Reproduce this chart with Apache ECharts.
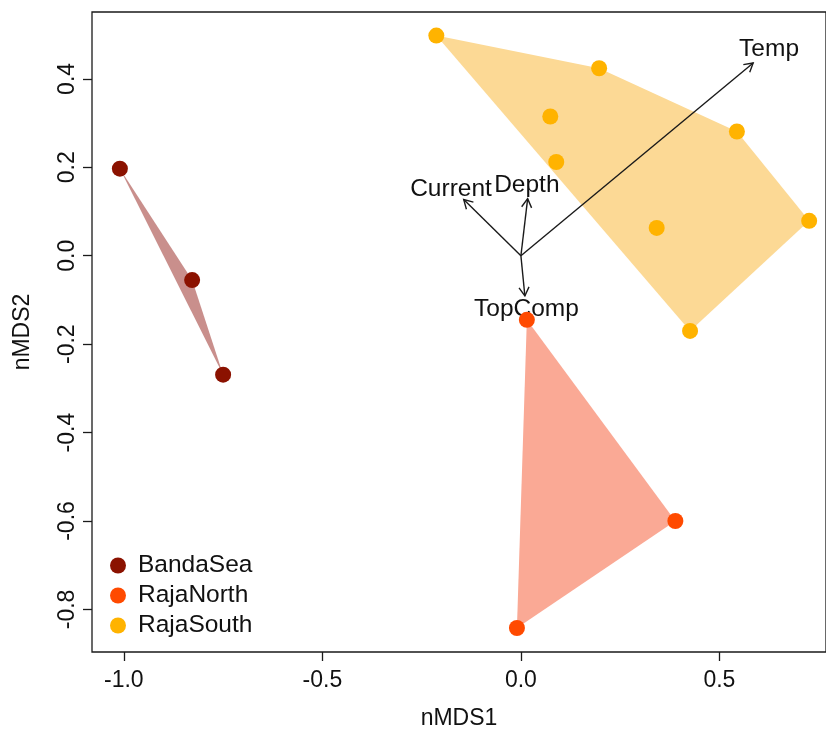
<!DOCTYPE html>
<html><head><meta charset="utf-8">
<script src="https://cdn.jsdelivr.net/npm/echarts@6/dist/echarts.min.js"></script>
<style>html,body{margin:0;padding:0;background:#fff}#c{width:826px;height:735px}</style>
</head><body><div id="c"></div>
<script>
const groups = ['BandaSea', 'RajaNorth', 'RajaSouth'];
const bandaSea = [[-1.010, 0.197], [-0.828, -0.055], [-0.750, -0.269]];
const rajaNorth = [[0.015, -0.145], [0.389, -0.600], [-0.010, -0.842]];
const rajaSouth = [[-0.213, 0.498], [0.197, 0.424], [0.074, 0.315], [0.089, 0.212],
                   [0.544, 0.281], [0.726, 0.079], [0.342, 0.063], [0.426, -0.170]];
const vectorNames = ['Current', 'Depth', 'TopComp', 'Temp'];
const vectorTips = [[-0.144, 0.127], [0.017, 0.129], [0.010, -0.091], [0.585, 0.436]];
const vectorLabelPos = [[-0.176, 0.151], [0.015, 0.159], [0.014, -0.121], [0.625, 0.467]];
const xTicks = [-1.0, -0.5, 0.0, 0.5];
const yTicks = [-0.8, -0.6, -0.4, -0.2, 0.0, 0.2, 0.4];

const groupData = [bandaSea, rajaNorth, rajaSouth];
const pointColors = ['#8B1200', '#FF4A00', '#FFB300'];
const hullColors = ['#C98F8C', '#FAA995', '#FCD995'];
const FONT = '"Liberation Sans", Arial, Helvetica, sans-serif';
const INK = '#1a1a1a';

function hull(pts) {
  const p = pts.slice().sort((a, b) => a[0] - b[0] || a[1] - b[1]);
  if (p.length < 3) return p;
  const cross = (o, a, b) => (a[0] - o[0]) * (b[1] - o[1]) - (a[1] - o[1]) * (b[0] - o[0]);
  const lower = [], upper = [];
  for (const q of p) { while (lower.length >= 2 && cross(lower[lower.length - 2], lower[lower.length - 1], q) <= 0) lower.pop(); lower.push(q); }
  for (let i = p.length - 1; i >= 0; i--) { const q = p[i]; while (upper.length >= 2 && cross(upper[upper.length - 2], upper[upper.length - 1], q) <= 0) upper.pop(); upper.push(q); }
  upper.pop(); lower.pop();
  return lower.concat(upper);
}

const series = [];
groups.forEach((g, i) => {
  const h = hull(groupData[i]);
  series.push({
    type: 'custom', name: g + ' hull', silent: true, z: 1,
    data: [[h[0][0], h[0][1]]],
    renderItem: (params, api) => ({
      type: 'polygon',
      shape: { points: h.map(p => api.coord(p)) },
      style: { fill: hullColors[i] }
    })
  });
});
series.push({
  type: 'custom', name: 'vectors', silent: true, z: 2,
  data: vectorTips,
  renderItem: (params, api) => {
    const o = api.coord([0, 0]);
    const t = api.coord([api.value(0), api.value(1)]);
    const ang = Math.atan2(t[1] - o[1], t[0] - o[0]);
    const L = 10, A = Math.PI / 6;
    const a1 = [t[0] - L * Math.cos(ang - A), t[1] - L * Math.sin(ang - A)];
    const a2 = [t[0] - L * Math.cos(ang + A), t[1] - L * Math.sin(ang + A)];
    const st = { stroke: INK, lineWidth: 1.4, fill: null };
    return { type: 'group', children: [
      { type: 'line', shape: { x1: o[0], y1: o[1], x2: t[0], y2: t[1] }, style: st },
      { type: 'polyline', shape: { points: [a1, t, a2] }, style: st }
    ] };
  }
});
series.push({
  type: 'custom', name: 'vector labels', silent: true, z: 2,
  data: vectorLabelPos,
  renderItem: (params, api) => {
    const c = api.coord([api.value(0), api.value(1)]);
    return { type: 'text', x: c[0], y: c[1], style: {
      text: vectorNames[params.dataIndex], fill: '#111', fontSize: 24.5, fontFamily: FONT,
      align: 'center', verticalAlign: 'middle' } };
  }
});
groups.forEach((g, i) => {
  series.push({
    type: 'scatter', name: g, z: 3, data: groupData[i], symbol: 'circle', symbolSize: 16,
    itemStyle: { color: pointColors[i], opacity: 1 }
  });
});

const chart = echarts.init(document.getElementById('c'), null, { renderer: 'canvas' });
chart.setOption({
  animation: false,
  backgroundColor: '#fff',
  grid: { left: 92, top: 12, width: 735, height: 642, show: true, borderColor: INK, borderWidth: 1.3, backgroundColor: 'transparent' },
  xAxis: {
    type: 'value', min: -1.0802, max: 0.7684,
    name: 'nMDS1', nameLocation: 'middle', nameGap: 55,
    nameTextStyle: { fontSize: 23, fontFamily: FONT, color: '#111' },
    axisLine: { show: false, onZero: false },
    splitLine: { show: false },
    axisTick: { show: true, length: 9, customValues: xTicks, lineStyle: { color: INK, width: 1.3 } },
    axisLabel: { customValues: xTicks, fontSize: 23, fontFamily: FONT, color: '#111', margin: 17,
      formatter: v => v.toFixed(1) }
  },
  yAxis: {
    type: 'value', min: -0.8963, max: 0.5513,
    name: 'nMDS2', nameLocation: 'middle', nameGap: 58, nameRotate: 90,
    nameTextStyle: { fontSize: 23, fontFamily: FONT, color: '#111' },
    axisLine: { show: false, onZero: false },
    splitLine: { show: false },
    axisTick: { show: true, length: 9, customValues: yTicks, lineStyle: { color: INK, width: 1.3 } },
    axisLabel: { customValues: yTicks, fontSize: 23, fontFamily: FONT, color: '#111', margin: 13, rotate: 90,
      formatter: v => v.toFixed(1) }
  },
  legend: {
    data: groups.map(g => ({ name: g, icon: 'circle' })),
    orient: 'vertical', left: 105, top: 548,
    itemWidth: 22, itemHeight: 16, itemGap: 5,
    textStyle: { fontSize: 24.5, fontFamily: FONT, color: '#111', padding: [0, 0, 0, 4] },
    selectedMode: false
  },
  series: series
});
</script></body></html>
